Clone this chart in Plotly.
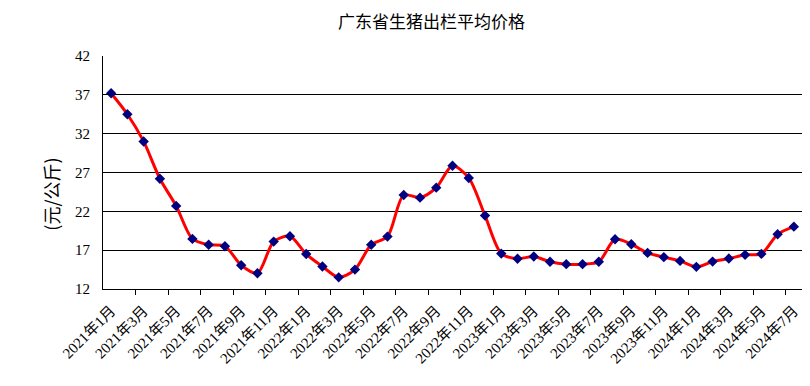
import plotly.graph_objects as go

months = [f"{y}年{m}月" for y in (2021, 2022, 2023, 2024) for m in range(1, 13)][:43]
prices = [37.2, 34.5, 31.0, 26.2, 22.7, 18.45, 17.7, 17.5, 15.06, 14.03,
          18.1, 18.8, 16.5, 14.9, 13.5, 14.5, 17.7, 18.75, 24.1, 23.76,
          25.05, 27.87, 26.3, 21.45, 16.56, 15.9, 16.18, 15.5, 15.2, 15.2,
          15.5, 18.4, 17.76, 16.65, 16.1, 15.62, 14.85, 15.53, 15.92, 16.4,
          16.52, 19.04, 20.03]
y_ticks = [12, 17, 22, 27, 32, 37, 42]
title_text = "广东省生猪出栏平均价格"
y_title = "(元/公斤)"

idx = list(range(len(months)))
label_pos = idx[::2]
label_text = months[::2]
boundaries = [i - 0.5 for i in idx[::2]][1:]

serif = "Liberation Serif, Noto Sans CJK SC, serif"

# page body has an 8px margin, so the figure is drawn 8px smaller
W, H = 802, 378
L, R, T, B = 95, 8, 48, 96.5
PW, PH = W - L - R, H - T - B

fig = go.Figure()
fig.add_trace(go.Scatter(
    x=idx, y=prices, mode="lines+markers",
    line=dict(color="#ff0000", width=3, shape="spline", smoothing=0.8),
    marker=dict(symbol="diamond", size=8, color="#000080"),
    text=months, hovertemplate="%{text}: %{y}<extra></extra>",
))

fig.update_layout(
    width=W, height=H,
    margin=dict(l=L, r=R, t=T, b=B),
    paper_bgcolor="white", plot_bgcolor="white",
    showlegend=False,
    xaxis=dict(
        range=[-0.5, len(months) - 0.5], automargin=False,
        tickmode="array", tickvals=label_pos, ticktext=label_text,
        tickangle=-45, ticks="", showgrid=False, zeroline=False,
        showline=True, linecolor="#000", linewidth=1, ticklabelstandoff=6,
        tickfont=dict(family=serif, size=15, color="#000"),
        minor=dict(tickmode="array", tickvals=boundaries, ticks="outside",
                   ticklen=5, tickcolor="#000", tickwidth=1, showgrid=False),
    ),
    yaxis=dict(
        range=[12, 42], tickmode="array", tickvals=y_ticks, automargin=False,
        ticks="inside", ticklen=7, tickcolor="#000", ticklabelstandoff=9,
        showgrid=True, gridcolor="#000", gridwidth=1, zeroline=False,
        showline=True, linecolor="#000", linewidth=1,
        tickfont=dict(family=serif, size=15, color="#000"),
    ),
    annotations=[
        dict(text=title_text, xref="paper", yref="paper",
             x=(423 - L) / PW, y=1 + (T - 12.5) / PH, showarrow=False,
             xanchor="center", yanchor="middle",
             font=dict(family="Noto Sans CJK SC", size=17, color="#000")),
        dict(text=y_title, textangle=-90, xref="paper", yref="paper",
             x=(51 - 103) / 699, y=(289.5 - 195) / 233.5, showarrow=False,
             xanchor="center", yanchor="middle",
             font=dict(family="Noto Sans CJK SC", size=18, color="#000")),
    ],
)

fig.write_html("out.html")
